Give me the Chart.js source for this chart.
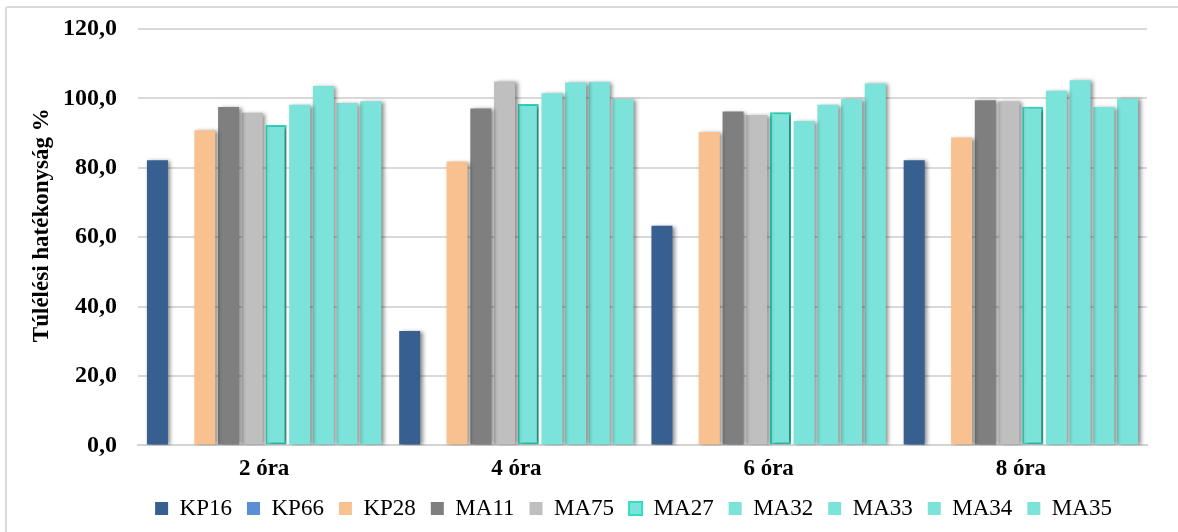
<!DOCTYPE html>
<html>
<head>
<meta charset="utf-8">
<script src="https://cdn.jsdelivr.net/npm/chart.js@4/dist/chart.umd.min.js"></script>
<style>
  html, body { margin: 0; padding: 0; background: #fff; overflow: hidden; }
  #wrap { position: relative; width: 1178px; height: 532px; }
  #frame { position: absolute; left: 5px; top: 6px; width: 1300px; height: 700px;
           border: 2px solid #dadada; border-radius: 3px; box-sizing: border-box; }
  canvas { position: absolute; left: 0; top: 0; }
</style>
</head>
<body>
<div id="wrap">
  <div id="frame"></div>
  <canvas id="chart" width="1178" height="532"></canvas>
</div>
<script>
// Sampling times
const categories = ['2 óra', '4 óra', '6 óra', '8 óra'];

// Survival efficiency (%) per strain, one value per sampling time
const KP16 = [82.2, 33.0, 63.3, 82.2];
const KP66 = [0, 0, 0, 0];
const KP28 = [90.8, 81.8, 90.3, 88.7];
const MA11 = [97.5, 97.1, 96.2, 99.5];
const MA75 = [95.9, 104.9, 95.2, 99.2];
const MA27 = [92.3, 98.4, 96.0, 97.6];
const MA32 = [98.2, 101.5, 93.5, 102.2];
const MA33 = [103.6, 104.6, 98.2, 105.2];
const MA34 = [98.7, 104.8, 99.8, 97.5];
const MA35 = [99.2, 99.8, 104.3, 100.0];

const yTicks = [0, 20, 40, 60, 80, 100, 120];

const serif = '"Liberation Serif", "Times New Roman", serif';
const teal = '#7be3da';

function series(label, data, color, border) {
  return {
    label: label,
    data: data,
    backgroundColor: color,
    borderColor: border || color,
    borderWidth: border ? 2 : 0,
    borderSkipped: false,
    categoryPercentage: 0.94,
    barPercentage: 0.885
  };
}

// Soft drop shadow under the bars
const barShadow = {
  id: 'barShadow',
  beforeDatasetsDraw(chart) {
    const ctx = chart.ctx;
    ctx.save();
    ctx.shadowColor = 'rgba(0,0,0,0.45)';
    ctx.shadowBlur = 4;
    ctx.shadowOffsetX = 2.5;
    ctx.shadowOffsetY = 1;
  },
  afterDatasetsDraw(chart) {
    chart.ctx.restore();
  }
};

// Legend centred under the plot area; y-axis title raised slightly
const placement = {
  id: 'placement',
  afterLayout(chart) {
    const lg = chart.legend;
    const dx = 60, dy = -3;
    lg.left += dx; lg.right += dx;
    lg.top += dy; lg.bottom += dy;

    const y = chart.scales.y;
    if (!y._titleRaised) {
      const drawTitle = y.drawTitle.bind(y);
      y.drawTitle = function () {
        this.top -= 24;
        drawTitle();
        this.top += 24;
      };
      y._titleRaised = true;
    }
  }
};

new Chart(document.getElementById('chart'), {
  type: 'bar',
  data: {
    labels: categories,
    datasets: [
      series('KP16', KP16, '#375f8f'),
      series('KP66', KP66, '#5a8fd6'),
      series('KP28', KP28, '#f9c090'),
      series('MA11', MA11, '#7f7f7f'),
      series('MA75', MA75, '#bfbfbf'),
      series('MA27', MA27, teal, '#2fdfc0'),
      series('MA32', MA32, teal),
      series('MA33', MA33, teal),
      series('MA34', MA34, teal),
      series('MA35', MA35, teal)
    ]
  },
  options: {
    responsive: false,
    animation: false,
    layout: { padding: { left: 0, right: 31, top: 10, bottom: -1 } },
    plugins: {
      tooltip: { enabled: false },
      legend: {
        position: 'bottom',
        labels: {
          color: '#000',
          font: { family: serif, size: 23 },
          boxWidth: 13,
          boxHeight: 13,
          padding: 15
        }
      }
    },
    scales: {
      x: {
        grid: { display: false },
        border: { display: true, color: '#d4d4d4', width: 2 },
        ticks: {
          color: '#000',
          font: { family: serif, size: 23, weight: 'bold' },
          padding: 2
        }
      },
      y: {
        min: 0,
        max: 120,
        afterBuildTicks(scale) {
          scale.ticks = yTicks.map(v => ({ value: v }));
        },
        afterFit(scale) {
          scale.width = 138;
          scale.paddingTop = 29;
        },
        grid: { color: '#d9d9d9', lineWidth: 2, drawTicks: false },
        border: { display: false },
        ticks: {
          color: '#000',
          font: { family: serif, size: 24, weight: 'bold' },
          padding: 21,
          callback: v => v.toFixed(1).replace('.', ',')
        },
        title: {
          display: true,
          text: 'Túlélési hatékonyság %',
          color: '#000',
          font: { family: serif, size: 23, weight: 'bold' },
          padding: { top: 28, bottom: 0 }
        }
      }
    }
  },
  plugins: [barShadow, placement]
});
</script>
</body>
</html>
